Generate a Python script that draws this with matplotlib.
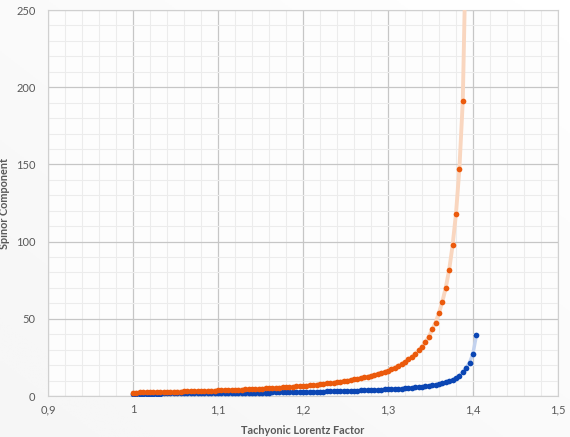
import numpy as np
import matplotlib
matplotlib.use('Agg')
import matplotlib.pyplot as plt
import matplotlib.ticker as ticker

plt.rcParams['font.family'] = ['Lato', 'DejaVu Sans']

line_orange = '#F9D6BF'
dot_orange = '#EB5A0C'
line_blue = '#C3D2EE'
dot_blue = '#0B46B4'
text_color = '#595959'

# Tachyonic Lorentz factor (same grid for both series)
lorentz = [
    1.000, 1.004, 1.008, 1.012, 1.016, 1.020, 1.024, 1.028, 1.032, 1.036,
    1.040, 1.044, 1.048, 1.052, 1.056, 1.060, 1.064, 1.068, 1.072, 1.076,
    1.080, 1.084, 1.088, 1.092, 1.096, 1.100, 1.104, 1.108, 1.112, 1.116,
    1.120, 1.124, 1.128, 1.132, 1.136, 1.140, 1.144, 1.148, 1.152, 1.156,
    1.160, 1.164, 1.168, 1.172, 1.176, 1.180, 1.184, 1.188, 1.192, 1.196,
    1.200, 1.204, 1.208, 1.212, 1.216, 1.220, 1.224, 1.228, 1.232, 1.236,
    1.240, 1.244, 1.248, 1.252, 1.256, 1.260, 1.264, 1.268, 1.272, 1.276,
    1.280, 1.284, 1.288, 1.292, 1.296, 1.300, 1.304, 1.308, 1.312, 1.316,
    1.320, 1.324, 1.328, 1.332, 1.336, 1.340, 1.344, 1.348, 1.352, 1.356,
    1.360, 1.364, 1.368, 1.372, 1.376, 1.380, 1.384, 1.388, 1.392, 1.396,
    1.400, 1.404,
]

spinor_orange = [
    2.21, 2.25, 2.29, 2.34, 2.38, 2.43, 2.47, 2.52, 2.57, 2.62,
    2.67, 2.72, 2.78, 2.83, 2.89, 2.95, 3.01, 3.06, 3.13, 3.19,
    3.25, 3.32, 3.39, 3.46, 3.53, 3.61, 3.68, 3.76, 3.84, 3.93,
    4.01, 4.10, 4.20, 4.29, 4.39, 4.49, 4.59, 4.70, 4.81, 4.92,
    5.04, 5.17, 5.29, 5.42, 5.56, 5.70, 5.85, 6.00, 6.16, 6.32,
    6.49, 6.70, 6.91, 7.13, 7.37, 7.61, 7.86, 8.13, 8.41, 8.70,
    9.01, 9.33, 9.66, 10.00, 10.36, 10.74, 11.15, 11.58, 12.04, 12.53,
    13.06, 13.63, 14.24, 14.89, 15.60, 16.44, 17.38, 18.41, 19.54, 20.78,
    22.16, 23.70, 25.42, 27.3, 29.5, 32.0, 34.8, 38.3, 43.1, 47.6,
    53.8, 61.2, 70.2, 81.8, 97.5, 118.0, 147.0, 191.0, 300.0,
]

spinor_blue = [
    1.51, 1.52, 1.54, 1.55, 1.56, 1.57, 1.59, 1.60, 1.62, 1.63,
    1.65, 1.66, 1.67, 1.69, 1.71, 1.72, 1.74, 1.75, 1.77, 1.79,
    1.81, 1.83, 1.84, 1.86, 1.88, 1.90, 1.92, 1.94, 1.96, 1.99,
    2.01, 2.03, 2.05, 2.08, 2.10, 2.13, 2.15, 2.18, 2.21, 2.24,
    2.26, 2.29, 2.33, 2.36, 2.39, 2.43, 2.46, 2.50, 2.54, 2.58,
    2.62, 2.66, 2.70, 2.75, 2.80, 2.85, 2.90, 2.95, 3.01, 3.07,
    3.13, 3.19, 3.25, 3.31, 3.37, 3.44, 3.51, 3.58, 3.66, 3.74,
    3.83, 3.92, 4.02, 4.13, 4.25, 4.36, 4.47, 4.59, 4.71, 4.85,
    5.00, 5.16, 5.34, 5.54, 5.76, 6.00, 6.27, 6.58, 6.93, 7.33,
    7.80, 8.30, 8.90, 9.63, 10.53, 11.67, 13.2, 15.5, 18.3, 21.7,
    27.5, 39.4,
]

x_ticks = [0.9, 1.0, 1.1, 1.2, 1.3, 1.4, 1.5]
y_ticks = [0, 50, 100, 150, 200, 250]

fig = plt.figure(figsize=(5.7, 4.37), dpi=100, facecolor='#f5f5f5')

# faint background gradient like the source
bg = fig.add_axes([0, 0, 1, 1], zorder=-10)
grad = np.linspace(0, 1, 256)
bg.imshow(np.add.outer(grad[::-1], grad) / 2, cmap=plt.cm.Greys_r, vmin=-12, vmax=1.0,
          aspect='auto', extent=[0, 1, 0, 1])
bg.axis('off')

ax = fig.add_axes([0.0842, 0.0938, 0.8947, 0.8833])
ax.set_facecolor('#fdfdfd')

x_orange = lorentz[:len(spinor_orange)]
ax.plot(lorentz, spinor_blue, color=line_blue, lw=2.5, zorder=2, solid_capstyle='round')
ax.plot(lorentz, spinor_blue, 'o', color=dot_blue, ms=4.1, mew=0, zorder=3)
ax.plot(x_orange, spinor_orange, color=line_orange, lw=2.8, zorder=4, solid_capstyle='round')
ax.plot(x_orange, spinor_orange, 'o', color=dot_orange, ms=4.1, mew=0, zorder=5)

ax.set_xlim(0.9, 1.5)
ax.set_ylim(0, 250)
ax.set_xticks(x_ticks)
ax.set_yticks(y_ticks)
ax.xaxis.set_minor_locator(ticker.MultipleLocator(0.02))
ax.yaxis.set_minor_locator(ticker.MultipleLocator(10))
ax.xaxis.set_major_formatter(ticker.FuncFormatter(lambda v, p: f'{v:g}'.replace('.', ',')))

ax.grid(which='major', color='#c6c6c6', lw=0.9, zorder=0)
ax.grid(which='minor', color='#ececec', lw=0.8, zorder=0)
ax.set_axisbelow(True)
ax.tick_params(which='both', length=0, colors=text_color, labelsize=8)
ax.tick_params(axis='y', pad=9)
ax.tick_params(axis='x', pad=6)
for s in ax.spines.values():
    s.set_color('#d0d0d0')
    s.set_linewidth(0.8)

ax.set_xlabel('Tachyonic Lorentz Factor', color=text_color, fontsize=7.8, fontweight='bold', labelpad=7)
ax.set_ylabel('Spinor Component', color=text_color, fontsize=7.8, fontweight='bold', labelpad=4)

plt.savefig('out.png', dpi=100, facecolor=fig.get_facecolor())
